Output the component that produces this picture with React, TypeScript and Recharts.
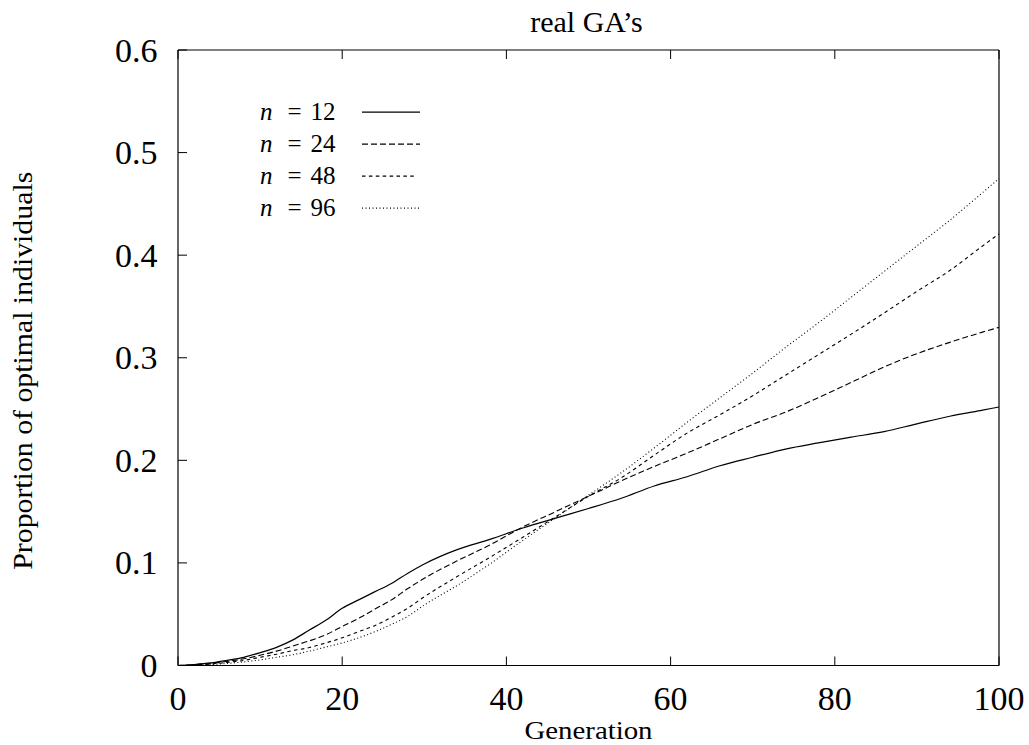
import React from 'react';
import { LineChart, Line, XAxis, YAxis, Legend, Label } from 'recharts';

const generations = [0, 2, 4, 6, 8, 10, 12, 14, 16, 18, 20, 22, 24, 26, 28, 30, 34, 38, 42, 46, 50, 54, 58, 62, 66, 70, 74, 78, 82, 86, 90, 94, 98, 100];
const n12 = [0, 0.001, 0.0025, 0.005, 0.008, 0.0125, 0.0177, 0.025, 0.0346, 0.044, 0.0558, 0.064, 0.072, 0.08, 0.09, 0.099, 0.113, 0.123, 0.134, 0.1436, 0.153, 0.163, 0.175, 0.184, 0.1947, 0.203, 0.211, 0.217, 0.2226, 0.228, 0.2356, 0.243, 0.249, 0.252];
const n24 = [0, 0.0008, 0.002, 0.004, 0.0065, 0.01, 0.014, 0.019, 0.024, 0.03, 0.038, 0.046, 0.055, 0.064, 0.075, 0.085, 0.102, 0.1176, 0.135, 0.15, 0.165, 0.18, 0.194, 0.207, 0.221, 0.235, 0.247, 0.261, 0.276, 0.291, 0.304, 0.315, 0.325, 0.3296];
const n48 = [0, 0.0005, 0.0015, 0.003, 0.005, 0.008, 0.011, 0.0145, 0.0175, 0.022, 0.027, 0.033, 0.039, 0.047, 0.056, 0.067, 0.0867, 0.1055, 0.125, 0.145, 0.165, 0.183, 0.205, 0.2265, 0.2444, 0.263, 0.283, 0.303, 0.323, 0.3436, 0.3647, 0.385, 0.409, 0.4207];
const n96 = [0, 0.0003, 0.001, 0.002, 0.0035, 0.0055, 0.008, 0.0105, 0.014, 0.018, 0.022, 0.027, 0.033, 0.04, 0.048, 0.059, 0.078, 0.099, 0.122, 0.144, 0.166, 0.188, 0.212, 0.237, 0.261, 0.285, 0.31, 0.334, 0.359, 0.384, 0.409, 0.434, 0.461, 0.4746];

const xTicks = [0, 20, 40, 60, 80, 100];
const yTicks = [0, 0.1, 0.2, 0.3, 0.4, 0.5, 0.6];

const seriesNames = ['12', '24', '48', '96'];
const seriesKeys = ['n12', 'n24', 'n48', 'n96'];
const seriesDash = ['', '6 3', '3.5 3.4', '1 2.5'];
const seriesWidth = [1.2, 1.1, 1.1, 1.1];

const data = generations.map((g, i) => ({
  gen: g,
  n12: n12[i],
  n24: n24[i],
  n48: n48[i],
  n96: n96[i],
}));

const FONT = '"Liberation Serif", "Times New Roman", Times, serif';
const TICK_LEN = 9;

const BottomTick = (props: any) => {
  const { x, y, payload } = props;
  return (
    <g>
      <line x1={x} y1={y} x2={x} y2={y - TICK_LEN} stroke="#000" strokeWidth={1} />
      <text x={x} y={y + 44.5} textAnchor="middle" fontSize={34} fontFamily={FONT} fill="#000">
        {String(payload.value)}
      </text>
    </g>
  );
};

const TopTick = (props: any) => {
  const { x, y } = props;
  return <line x1={x} y1={y} x2={x} y2={y + TICK_LEN} stroke="#000" strokeWidth={1} />;
};

const LeftTick = (props: any) => {
  const { x, y, payload } = props;
  return (
    <g>
      <line x1={x} y1={y} x2={x + TICK_LEN} y2={y} stroke="#000" strokeWidth={1} />
      <text x={x - 20.5} y={y + 11.5} textAnchor="end" fontSize={34} fontFamily={FONT} fill="#000">
        {String(payload.value)}
      </text>
    </g>
  );
};

const RightTick = (props: any) => {
  const { x, y } = props;
  return <line x1={x} y1={y} x2={x - TICK_LEN} y2={y} stroke="#000" strokeWidth={1} />;
};

const renderTitle = (props: any) => {
  const vb = props.viewBox || { x: 178, y: 49, width: 821, height: 1 };
  return (
    <text x={vb.x + vb.width / 2 - 2} y={vb.y + vb.height - 18} textAnchor="middle" fontSize={30} fontFamily={FONT} fill="#000">
      real GA’s
    </text>
  );
};

const renderXLabel = (props: any) => {
  const vb = props.viewBox || { x: 178, y: 665.5, width: 821, height: 1 };
  return (
    <text x={vb.x + vb.width / 2} y={vb.y + 73} textAnchor="middle" fontSize={26} fontFamily={FONT} fill="#000" textLength={128} lengthAdjust="spacingAndGlyphs">
      Generation
    </text>
  );
};

const renderYLabel = (props: any) => {
  const vb = props.viewBox || { x: 177, y: 50, width: 1, height: 615.5 };
  const cx = vb.x + vb.width - 146.3;
  const cy = vb.y + vb.height / 2 + 13;
  return (
    <text transform={`translate(${cx}, ${cy}) rotate(-90)`} x={0} y={0} textAnchor="middle" fontSize={27} fontFamily={FONT} fill="#000" textLength={398} lengthAdjust="spacingAndGlyphs">
      Proportion of optimal individuals
    </text>
  );
};

const ROW_H = 32.2;

const renderLegend = () => (
  <div style={{ position: 'relative', width: 200, height: ROW_H * 4, fontFamily: FONT, color: '#000' }}>
    {seriesNames.map((name, i) => (
      <div key={name} style={{ position: 'absolute', left: 0, top: i * ROW_H, width: 200, height: ROW_H }}>
        <span style={{ position: 'absolute', left: 10, top: 0, fontSize: 25, lineHeight: `${ROW_H}px`, whiteSpace: 'nowrap' }}>
          <i>n</i>
          <span style={{ marginLeft: 15, marginRight: 9 }}>=</span>
          <span>{name}</span>
        </span>
        <svg style={{ position: 'absolute', left: 112, top: 0 }} width={58} height={ROW_H}>
          <line x1={0} y1={ROW_H / 2} x2={i === 2 ? 55 : 58} y2={ROW_H / 2} stroke="#000" strokeWidth={seriesWidth[i]} strokeDasharray={seriesDash[i] || undefined} />
        </svg>
      </div>
    ))}
  </div>
);

export default function App() {
  return (
    <div style={{ position: 'absolute', left: 0, top: 0, width: 1029, height: 745, background: '#fff' }}>
      <LineChart width={1029} height={745} data={data} margin={{ top: 49, right: 29, bottom: 78.5, left: 177 }}>
        <XAxis
          xAxisId="bottom"
          dataKey="gen"
          type="number"
          domain={[0, 100]}
          ticks={xTicks}
          orientation="bottom"
          height={1}
          tickSize={0}
          tickMargin={0}
          tickLine={false}
          axisLine={{ stroke: '#000', strokeWidth: 1.2 }}
          tick={BottomTick}
          interval={0}
        >
          <Label content={renderXLabel} />
        </XAxis>
        <XAxis
          xAxisId="top"
          dataKey="gen"
          type="number"
          domain={[0, 100]}
          ticks={xTicks}
          orientation="top"
          height={1}
          tickSize={0}
          tickMargin={0}
          tickLine={false}
          axisLine={{ stroke: '#000', strokeWidth: 1.2 }}
          tick={TopTick}
          interval={0}
        >
          <Label content={renderTitle} />
        </XAxis>
        <YAxis
          yAxisId="left"
          type="number"
          domain={[0, 0.6]}
          ticks={yTicks}
          orientation="left"
          width={1}
          tickSize={0}
          tickMargin={0}
          tickLine={false}
          axisLine={{ stroke: '#000', strokeWidth: 1.2 }}
          tick={LeftTick}
          interval={0}
        >
          <Label content={renderYLabel} />
        </YAxis>
        <YAxis
          yAxisId="right"
          type="number"
          domain={[0, 0.6]}
          ticks={yTicks}
          orientation="right"
          width={1}
          tickSize={0}
          tickMargin={0}
          tickLine={false}
          axisLine={{ stroke: '#000', strokeWidth: 1.2 }}
          tick={RightTick}
          interval={0}
        />
        <Legend
          content={renderLegend}
          layout="vertical"
          align="center"
          verticalAlign="middle"
          wrapperStyle={{ left: 250, top: 95.6, width: 200, height: ROW_H * 4 }}
        />
        {seriesKeys.map((k, i) => (
          <Line
            key={k}
            xAxisId="bottom"
            yAxisId="left"
            dataKey={k}
            name={`n = ${seriesNames[i]}`}
            type="monotone"
            stroke="#000"
            strokeWidth={seriesWidth[i]}
            strokeDasharray={seriesDash[i] || undefined}
            dot={false}
            activeDot={false}
            isAnimationActive={false}
          />
        ))}
      </LineChart>
    </div>
  );
}
